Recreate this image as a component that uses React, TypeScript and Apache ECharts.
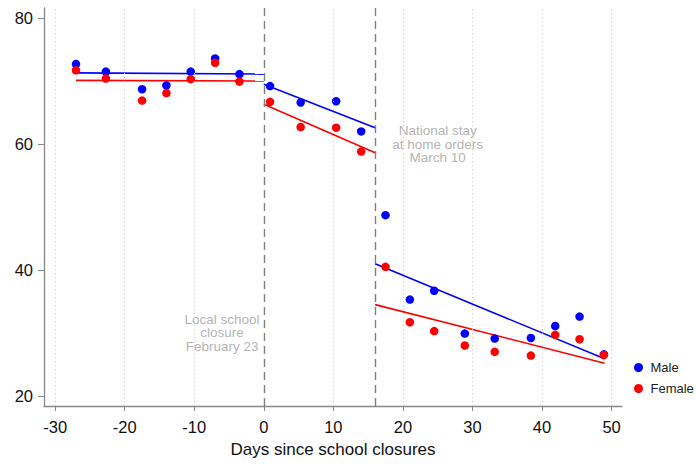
import React, { useEffect, useRef } from "react";
import * as echarts from "echarts";

const xTicks = [-30, -20, -10, 0, 10, 20, 30, 40, 50];
const yTicks = [20, 40, 60, 80];
const days = [-27, -22.7, -17.5, -14, -10.5, -7, -3.5, 0.9, 5.3, 10.4, 14, 17.5, 21, 24.5, 28.9, 33.2, 38.4, 41.9, 45.4, 48.9];
const male = [72.7, 71.5, 68.7, 69.3, 71.5, 73.6, 71.1, 69.2, 66.6, 66.8, 62.0, 48.7, 35.3, 36.7, 29.9, 29.1, 29.2, 31.1, 32.6, 26.6];
const female = [71.7, 70.4, 66.9, 68.1, 70.3, 72.9, 69.9, 66.7, 62.7, 62.6, 58.8, 40.5, 31.7, 30.3, 28.0, 27.0, 26.4, 29.7, 29.0, 26.5];
// fitted segments: [x0, y0, x1, y1]
const maleFit = [
  [-27, 71.3, 0, 71.1],
  [0, 69.5, 16, 62.6],
  [16, 41.0, 49, 25.9],
];
const femaleFit = [
  [-27, 70.1, 0, 70.0],
  [0, 66.3, 16, 58.6],
  [16, 34.5, 49, 25.2],
];
const events = [0, 16];
const noteX = [-6, 25];
const noteY = [30, 60];
const noteText = ["Local school\nclosure\nFebruary 23", "National stay\nat home orders\nMarch 10"];

const FONT = "Arial, 'Liberation Sans', sans-serif";
const BLUE = "#0000ff";
const RED = "#ff0000";

export default function App() {
  const ref = useRef<HTMLDivElement>(null);
  useEffect(() => {
    if (!ref.current) return;
    const chart = echarts.init(ref.current, null, { renderer: "svg" });
    const fitSeries = (segs: number[][], color: string, name: string) =>
      segs.map((s, i) => ({
        name: name + "fit" + i,
        type: "line",
        data: [
          [s[0], s[1]],
          [s[2], s[3]],
        ],
        showSymbol: false,
        symbol: "none",
        lineStyle: { color, width: 1.6 },
        z: 3,
        silent: true,
      }));
    chart.setOption({
      animation: false,
      textStyle: { fontFamily: FONT },
      grid: { left: 44, right: 74, top: 8, bottom: 58, containLabel: false },
      legend: {
        data: ["Male", "Female"],
        orient: "vertical",
        left: 629,
        top: 356,
        icon: "circle",
        itemWidth: 14,
        itemHeight: 9,
        itemGap: 8,
        textStyle: { fontSize: 13, color: "#222", fontFamily: FONT },
      },
      xAxis: {
        type: "value",
        min: -31.6,
        max: 51.5,
        name: "Days since school closures",
        nameLocation: "middle",
        nameGap: 35,
        nameTextStyle: { fontSize: 17, color: "#111", fontFamily: FONT },
        axisLine: { onZero: false, lineStyle: { color: "#888", width: 1.3 } },
        axisTick: { show: true, customValues: xTicks, length: 5, lineStyle: { color: "#888" } },
        axisLabel: { customValues: xTicks, fontSize: 16.5, color: "#111", margin: 12, fontFamily: FONT },
        splitLine: { show: false },
      },
      yAxis: {
        type: "value",
        min: 18.4,
        max: 81.6,
        axisLine: { show: true, onZero: false, lineStyle: { color: "#888", width: 1.3 } },
        axisTick: { show: true, customValues: yTicks, length: 6, lineStyle: { color: "#888" } },
        axisLabel: { customValues: yTicks, fontSize: 16.5, color: "#111", margin: 11, fontFamily: FONT },
        splitLine: { show: false },
      },
      series: [
        {
          name: "grid",
          type: "line",
          data: [],
          silent: true,
          markLine: {
            silent: true,
            symbol: "none",
            label: { show: false },
            lineStyle: { color: "#c8c8c8", type: [1, 3], width: 1 },
            data: xTicks.filter((v) => events.indexOf(v) < 0).map((v) => ({ xAxis: v })),
          },
          z: 1,
        },
        {
          name: "events",
          type: "line",
          data: [],
          silent: true,
          markLine: {
            silent: true,
            symbol: "none",
            label: { show: false },
            lineStyle: { color: "#808080", type: [8, 5], width: 1.4 },
            data: events.map((v) => ({ xAxis: v })),
          },
          z: 2,
        },
        {
          name: "notes",
          type: "scatter",
          silent: true,
          symbolSize: 1,
          itemStyle: { color: "rgba(0,0,0,0)" },
          data: noteX.map((x, i) => ({
            value: [x, noteY[i]],
            label: {
              show: true,
              position: "inside",
              formatter: noteText[i],
              color: "#a0a0a0",
              fontSize: 13.5,
              lineHeight: 13.5,
              align: "center",
              verticalAlign: "middle",
              fontFamily: FONT,
            },
          })),
          z: 2,
        },
        ...fitSeries(maleFit, BLUE, "m"),
        ...fitSeries(femaleFit, RED, "f"),
        {
          name: "Male",
          type: "scatter",
          data: days.map((d, i) => [d, male[i]]),
          symbolSize: 8.5,
          itemStyle: { color: BLUE, opacity: 1 },
          z: 4,
        },
        {
          name: "Female",
          type: "scatter",
          data: days.map((d, i) => [d, female[i]]),
          symbolSize: 8.5,
          itemStyle: { color: RED, opacity: 1 },
          z: 5,
        },
      ],
    });
    return () => chart.dispose();
  }, []);
  return <div ref={ref} style={{ width: 696, height: 464, position: "absolute", left: 0, top: 0 }} />;
}
